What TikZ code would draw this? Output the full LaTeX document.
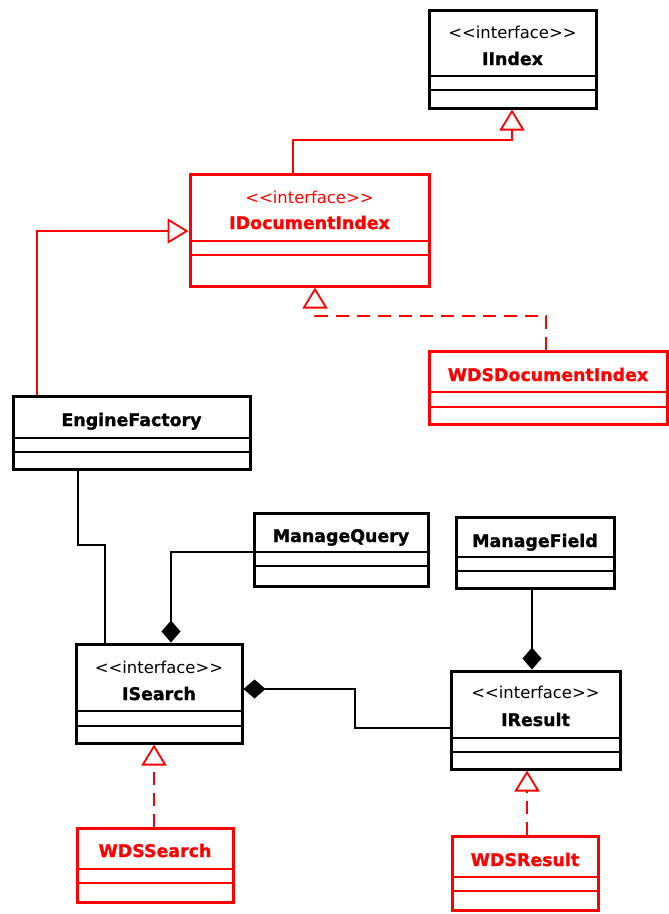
\documentclass[tikz,border=0pt]{standalone}
\usepackage{fontspec}
\setmainfont{DejaVu Sans}
\newfontfamily\clsfont[FakeBold=1.3]{DejaVu Sans Bold}
\usetikzlibrary{arrows.meta,fit}
\definecolor{umlred}{RGB}{255,0,0}
\newcommand{\sterotxt}{<\kern0pt<interface>\kern0pt>}
\begin{document}
\begin{tikzpicture}[x=1pt,y=-1pt,
  cls/.style={draw, line width=3pt, rectangle, inner sep=0pt},
  comp/.style={line width=1.2pt, shorten <=1.5pt, shorten >=1.5pt},
  ster/.style={font=\fontsize{16.4}{17}\selectfont, inner sep=0pt, anchor=base},
  cname/.style={font=\fontsize{17.4}{18}\clsfont, inner sep=0pt, anchor=base},
  conn/.style={line width=1.3pt},
  gen/.style={conn, draw=umlred, -{Triangle[open, length=21pt, width=25pt, line width=1.8pt]}},
  realz/.style={gen, dash pattern=on 13pt off 8pt},
  comps/.style={conn, -{Diamond[length=22pt, width=19pt]}}
]
\useasboundingbox (0,0) rectangle (669,914);
\fill[white] (0,0) rectangle (669,914);

% ---- IIndex
\node[cls, draw=black, fit={(429,10) (596,108)}] (iindex) {};
\draw[comp] (iindex.west |- 0,76) -- (iindex.east |- 0,76);
\draw[comp] (iindex.west |- 0,90) -- (iindex.east |- 0,90);
\node[ster] (iindex-st) at (512.5,38) {\sterotxt};
\node[cname] (iindex-nm) at (512.5,65) {IIndex};

% ---- IDocumentIndex
\node[cls, draw=umlred, fit={(190,174) (429,286)}] (idoc) {};
\draw[comp, umlred] (idoc.west |- 0,241) -- (idoc.east |- 0,241);
\draw[comp, umlred] (idoc.west |- 0,255) -- (idoc.east |- 0,255);
\node[ster, text=umlred] (idoc-st) at (309.5,203) {\sterotxt};
\node[cname, text=umlred] (idoc-nm) at (309.5,229) {IDocumentIndex};

% ---- WDSDocumentIndex
\node[cls, draw=umlred, fit={(429,351) (667,424)}] (wdsdoc) {};
\draw[comp, umlred] (wdsdoc.west |- 0,392) -- (wdsdoc.east |- 0,392);
\draw[comp, umlred] (wdsdoc.west |- 0,407) -- (wdsdoc.east |- 0,407);
\node[cname, text=umlred] (wdsdoc-nm) at (548,381) {WDSDocumentIndex};

% ---- EngineFactory
\node[cls, draw=black, fit={(13,396) (250,469)}] (engine) {};
\draw[comp] (engine.west |- 0,438) -- (engine.east |- 0,438);
\draw[comp] (engine.west |- 0,452) -- (engine.east |- 0,452);
\node[cname] (engine-nm) at (131.5,426) {EngineFactory};

% ---- ManageQuery
\node[cls, draw=black, fit={(254,513) (428,586)}] (mquery) {};
\draw[comp] (mquery.west |- 0,552) -- (mquery.east |- 0,552);
\draw[comp] (mquery.west |- 0,566) -- (mquery.east |- 0,566);
\node[cname] (mquery-nm) at (341,542) {ManageQuery};

% ---- ManageField
\node[cls, draw=black, fit={(456,517) (614,588)}] (mfield) {};
\draw[comp] (mfield.west |- 0,557) -- (mfield.east |- 0,557);
\draw[comp] (mfield.west |- 0,571) -- (mfield.east |- 0,571);
\node[cname] (mfield-nm) at (535,547) {ManageField};

% ---- ISearch
\node[cls, draw=black, fit={(76,644) (242,743)}] (isearch) {};
\draw[comp] (isearch.west |- 0,711) -- (isearch.east |- 0,711);
\draw[comp] (isearch.west |- 0,726) -- (isearch.east |- 0,726);
\node[ster] (isearch-st) at (159,673) {\sterotxt};
\node[cname] (isearch-nm) at (159,700) {ISearch};

% ---- IResult
\node[cls, draw=black, fit={(451,671) (620,769)}] (iresult) {};
\draw[comp] (iresult.west |- 0,738) -- (iresult.east |- 0,738);
\draw[comp] (iresult.west |- 0,752) -- (iresult.east |- 0,752);
\node[ster] (iresult-st) at (535.5,698) {\sterotxt};
\node[cname] (iresult-nm) at (535.5,726) {IResult};

% ---- WDSSearch
\node[cls, draw=umlred, fit={(77,828) (233,902)}] (wdssearch) {};
\draw[comp, umlred] (wdssearch.west |- 0,869) -- (wdssearch.east |- 0,869);
\draw[comp, umlred] (wdssearch.west |- 0,883) -- (wdssearch.east |- 0,883);
\node[cname, text=umlred] (wdssearch-nm) at (155,857) {WDSSearch};

% ---- WDSResult
\node[cls, draw=umlred, fit={(452,836) (598,910)}] (wdsresult) {};
\draw[comp, umlred] (wdsresult.west |- 0,877) -- (wdsresult.east |- 0,877);
\draw[comp, umlred] (wdsresult.west |- 0,891) -- (wdsresult.east |- 0,891);
\node[cname, text=umlred] (wdsresult-nm) at (525,866) {WDSResult};

% ---- connectors
\draw[gen] (idoc.north -| 293,0) -- (293,140) -- (512,140) -- (iindex.south -| 512,0);
\draw[gen] (engine.north -| 37,0) -- (37,231) -- (idoc.west |- 0,231);
\draw[realz] (wdsdoc.north -| 546,0) -- (546,316) -- (315,316) -- (idoc.south -| 315,0);
\draw[conn] (engine.south -| 78,0) -- (78,545) -- (105,545) -- (isearch.north -| 105,0);
\draw[comps] (mquery.west |- 0,552) -- (171,552) -- (isearch.north -| 171,0);
\draw[comps] (iresult.west |- 0,728) -- (355,728) -- (355,689) -- (isearch.east |- 0,689);
\draw[comps] (mfield.south -| 532,0) -- (iresult.north -| 532,0);
\draw[realz] (wdssearch.north -| 154,0) -- (isearch.south -| 154,0);
\draw[realz] (wdsresult.north -| 527,0) -- (iresult.south -| 527,0);
\end{tikzpicture}
\end{document}
